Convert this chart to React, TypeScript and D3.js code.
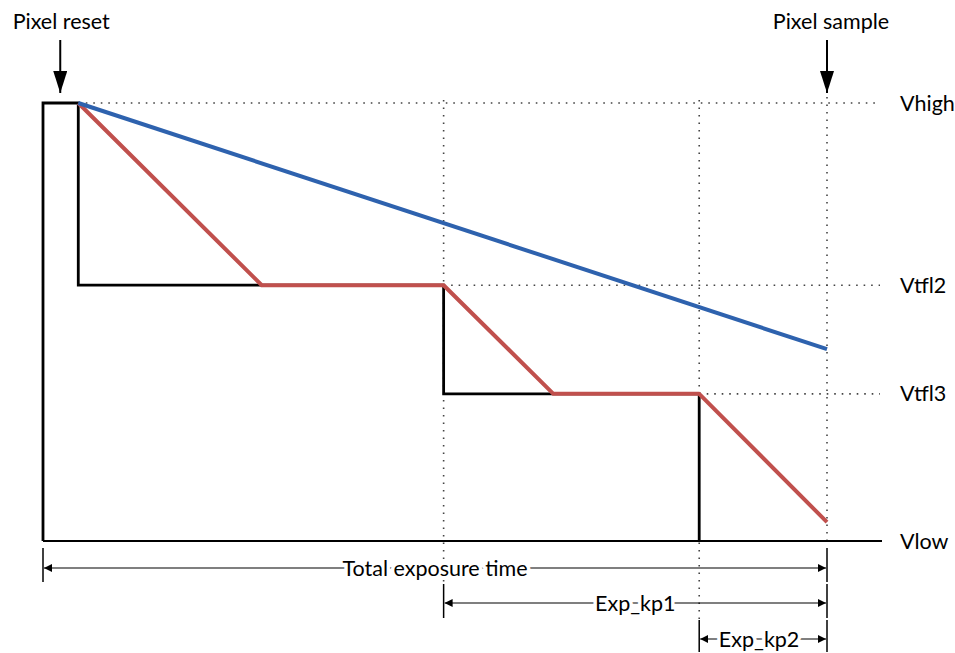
import React from "react";
import * as d3 from "d3";

// Time axis (0 = start of reset, 100 = pixel sample), voltage axis (0 = Vlow, 100 = Vhigh)
const timePoints = { resetEnd: 4.5, kp1: 51.1, kp2: 83.7, sample: 100 };
const levelNames = ["Vhigh", "Vtfl2", "Vtfl3", "Vlow"];
const levelValues = [100, 58.4, 33.6, 0];

// Barrier (black) signal
const barrierT = [0, 0, 4.5, 4.5, 51.1, 51.1, 83.7, 83.7];
const barrierV = [0, 100, 100, 58.4, 58.4, 33.6, 33.6, 0];

// Pixel responses
const redT = [4.5, 27.9, 51.1, 65.1, 83.7, 100];
const redV = [100, 58.4, 58.4, 33.6, 33.6, 4.3];
const blueT = [4.5, 100];
const blueV = [100, 43.8];

const dimLabels = ["Total exposure time", "Exp_kp1", "Exp_kp2"];
const dimStarts = [0, 51.1, 83.7];
const topLabels = ["Pixel reset", "Pixel sample"];
const topTimes = [2.2, 100];

const W = 955;
const H = 653;
const FONT = "Lato, 'Open Sans', sans-serif";
const FS = 21.5;

export default function App() {
  const x = d3.scaleLinear().domain([0, 100]).range([43, 827]);
  const y = d3.scaleLinear().domain([0, 100]).range([541, 103]);
  const line = d3
    .line<[number, number]>()
    .x((d) => x(d[0]))
    .y((d) => y(d[1]));

  const barrier = barrierT.map((t, i) => [t, barrierV[i]] as [number, number]);
  const red = redT.map((t, i) => [t, redV[i]] as [number, number]);
  const blue = blueT.map((t, i) => [t, blueV[i]] as [number, number]);

  const dotted = { stroke: "#444", strokeWidth: 1.6, strokeDasharray: "1.6 5.9", fill: "none" };
  const levelStart = [timePoints.resetEnd, timePoints.kp1, timePoints.kp2, 0];
  const rightEnd = 880;

  const dimY = [568, 603, 639];
  const tickTop = [548, 584, 620];
  const tickBot = [582, 618, 652];
  const vDotBottom = [0, 583, 619];

  return (
    <svg
      width={W}
      height={H}
      style={{ position: "absolute", left: 0, top: 0, background: "#fff" }}
      fontFamily={FONT}
    >
      <defs>
        <marker id="ah" viewBox="0 0 10 10" refX="10" refY="5" markerWidth="8" markerHeight="8" markerUnits="userSpaceOnUse" orient="auto-start-reverse">
          <path d="M0,0 L10,5 L0,10 z" fill="#000" />
        </marker>
        <marker id="big" viewBox="0 0 10 10" refX="10" refY="5" markerWidth="22" markerHeight="14" markerUnits="userSpaceOnUse" orient="auto" preserveAspectRatio="none">
          <path d="M0,0 L10,5 L0,10 z" fill="#000" />
        </marker>
      </defs>

      {/* horizontal dotted level lines */}
      {levelNames.slice(0, 3).map((n, i) => (
        <line key={n} x1={x(levelStart[i])} x2={rightEnd} y1={y(levelValues[i])} y2={y(levelValues[i])} {...dotted} />
      ))}
      {/* vertical dotted lines */}
      {[timePoints.kp1, timePoints.kp2].map((t, i) => (
        <line key={t} x1={x(t)} x2={x(t)} y1={y(100) - 3} y2={vDotBottom[i + 1]} {...dotted} />
      ))}
      <line x1={x(timePoints.sample)} x2={x(timePoints.sample)} y1={y(100) - 6} y2={y(0)} {...dotted} />

      {/* baseline */}
      <line x1={x(0)} x2={882} y1={y(0)} y2={y(0)} stroke="#000" strokeWidth={2} />

      {/* barrier signal */}
      <path d={line(barrier) || ""} fill="none" stroke="#000" strokeWidth={2.8} strokeLinejoin="miter" />
      {/* red response */}
      <path d={line(red) || ""} fill="none" stroke="#C0504D" strokeWidth={4} strokeLinejoin="round" />
      {/* blue response */}
      <path d={line(blue) || ""} fill="none" stroke="#2E62AE" strokeWidth={4} strokeLinecap="butt" />

      {/* level labels */}
      {levelNames.map((n, i) => (
        <text key={n} x={900} y={y(levelValues[i])} dy="0.35em" fontSize={FS} fill="#000">
          {n}
        </text>
      ))}

      {/* top arrows */}
      {topLabels.map((lab, i) => (
        <g key={lab}>
          <text x={x(topTimes[i]) + (i === 0 ? 1 : 4)} y={29} textAnchor="middle" fontSize={FS} fill="#000">
            {lab}
          </text>
          <line x1={x(topTimes[i])} x2={x(topTimes[i])} y1={40} y2={93} stroke="#000" strokeWidth={2} markerEnd="url(#big)" />
        </g>
      ))}

      {/* dimension lines */}
      {dimLabels.map((lab, i) => {
        const x0 = x(dimStarts[i]);
        const x1 = x(timePoints.sample);
        return (
          <g key={lab}>
            <line x1={x0} x2={x0} y1={tickTop[i]} y2={tickBot[i]} stroke="#000" strokeWidth={1.5} />
            <line x1={x1} x2={x1} y1={tickTop[i]} y2={tickBot[i]} stroke="#000" strokeWidth={1.5} />
            <line x1={x0 + 1} x2={x1 - 1} y1={dimY[i]} y2={dimY[i]} stroke="#000" strokeWidth={1.2} markerStart="url(#ah)" markerEnd="url(#ah)" />
            <text
              x={(x0 + x1) / 2 - (i === 2 ? 4 : 0)}
              y={dimY[i]}
              dy="0.35em"
              textAnchor="middle"
              fontSize={FS}
              fill="#000"
              stroke="#fff"
              strokeWidth={7}
              paintOrder="stroke"
            >
              {lab}
            </text>
          </g>
        );
      })}
    </svg>
  );
}
